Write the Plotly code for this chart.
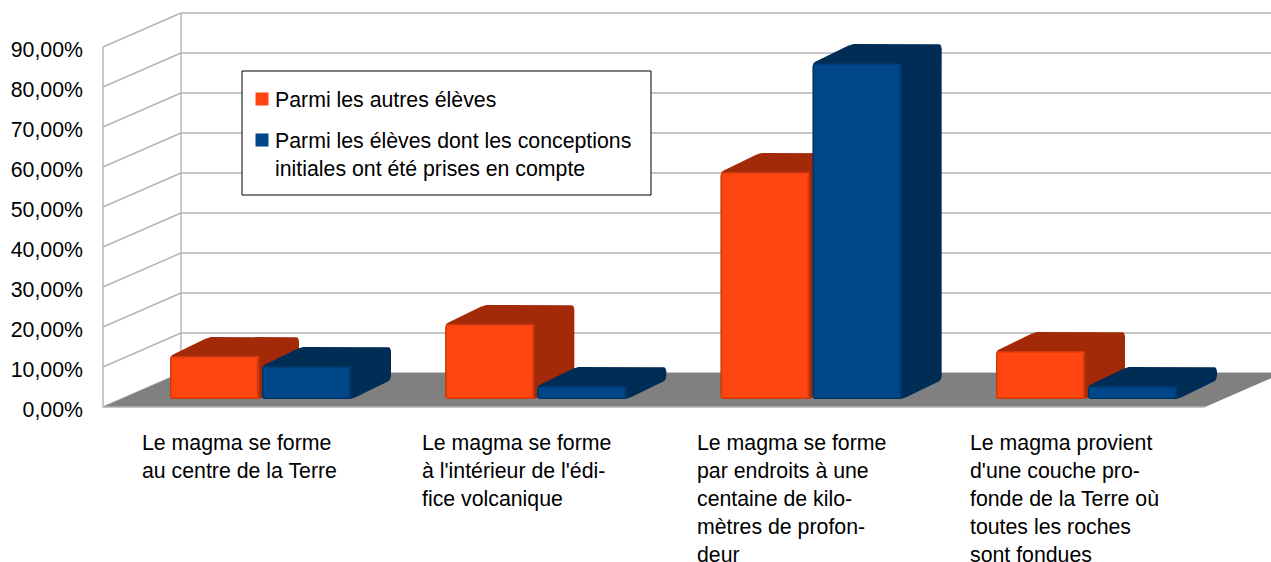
import plotly.graph_objects as go

W, H = 1271, 562

categories = [
    ["Le magma se forme", "au centre de la Terre"],
    ["Le magma se forme", "à l'intérieur de l'édi-", "fice volcanique"],
    ["Le magma se forme", "par endroits à une", "centaine de kilo-", "mètres de profon-", "deur"],
    ["Le magma provient", "d'une couche pro-", "fonde de la Terre où", "toutes les roches", "sont fondues"],
]
series_names = [
    ["Parmi les autres élèves"],
    ["Parmi les élèves dont les conceptions", "initiales ont été prises en compte"],
]
autres = [10.75, 18.75, 56.75, 12.0]
prises = [8.25, 3.25, 84.0, 3.25]
tick_values = [0, 10, 20, 30, 40, 50, 60, 70, 80, 90]
tick_labels = ["0,00%", "10,00%", "20,00%", "30,00%", "40,00%", "50,00%", "60,00%", "70,00%", "80,00%", "90,00%"]

FONT = "Liberation Sans"
FS = 21.3
GRID = "#b3b3b3"
PAL = [
    dict(front="#ff4510", edge="#c4340a", dark="#a32a09"),
    dict(front="#00478a", edge="#00305c", dark="#002d56"),
]

# scale of the oblique projection
PX_X = 275.33      # px per category
PX_Y = 4.0         # px per percent
X0_PX = 261.0      # px position of first category centre
Y0_PX = 407.0      # px position of value 0 on the front edge
xr = [(0 - X0_PX) / PX_X, (W - X0_PX) / PX_X]
yr = [(Y0_PX - H) / PX_Y, Y0_PX / PX_Y]

WALL_DX = 78 / PX_X
WALL_DY = 34 / PX_Y
LEFT = (103 - X0_PX) / PX_X
RIGHT = (1205 - X0_PX) / PX_X
BAR_W = 90 / PX_X
BAR_GAP = 2 / PX_X
BAR_BASE = 8 / PX_Y
BAR_DX = 39 / PX_X
BAR_DY = 19 / PX_Y
FADE = 2.5 / PX_Y
INSET = 1.5 / PX_X


def rounded(points, r=3.0, n=4):
    """Round a polygon's corners; r in px."""
    out = []
    m = len(points)
    for i, (x, y) in enumerate(points):
        px, py = points[i - 1]
        qx, qy = points[(i + 1) % m]
        def toward(ax, ay):
            dxp, dyp = (ax - x) * PX_X, (ay - y) * PX_Y
            d = (dxp ** 2 + dyp ** 2) ** 0.5
            t = min(r / d, 0.5) if d else 0
            return x + (ax - x) * t, y + (ay - y) * t
        a, b = toward(px, py), toward(qx, qy)
        for k in range(n + 1):
            t = k / n
            out.append((
                (1 - t) ** 2 * a[0] + 2 * t * (1 - t) * x + t ** 2 * b[0],
                (1 - t) ** 2 * a[1] + 2 * t * (1 - t) * y + t ** 2 * b[1],
            ))
    out.append(out[0])
    return [p[0] for p in out], [p[1] for p in out]


def poly(points, color, r=3.0, gradient=None):
    xs, ys = rounded(points, r) if r else ([p[0] for p in points] + [points[0][0]], [p[1] for p in points] + [points[0][1]])
    kw = dict(fillcolor=color)
    if gradient:
        kw = dict(fillgradient=gradient)
    return go.Scatter(x=xs, y=ys, mode="lines", fill="toself", line=dict(width=0),
                      hoverinfo="skip", showlegend=False, **kw)


fig = go.Figure()

# walls and gridlines
gx, gy = [], []
for v in tick_values:
    gx += [LEFT, LEFT + WALL_DX, RIGHT + WALL_DX, None]
    gy += [v, v + WALL_DY, v + WALL_DY, None]
for x, off in ((LEFT, 0), (LEFT + WALL_DX, WALL_DY)):
    gx += [x, x, None]
    gy += [off + tick_values[0], off + tick_values[-1], None]
fig.add_trace(go.Scatter(x=gx, y=gy, mode="lines", line=dict(color=GRID, width=1.4),
                         hoverinfo="skip", showlegend=False))

# floor
fig.add_trace(poly([(LEFT, 0), (LEFT + WALL_DX, WALL_DY), (RIGHT + WALL_DX, WALL_DY), (RIGHT, 0)], "#808080", r=0))
fig.add_trace(go.Scatter(x=[LEFT, RIGHT], y=[0, 0], mode="lines", line=dict(color=GRID, width=1.4),
                         hoverinfo="skip", showlegend=False))

# bars, back to front within each group
for i in range(len(categories)):
    for s, vals in enumerate((autres, prises)):
        c = PAL[s]
        x0 = i - BAR_W - BAR_GAP / 2 if s == 0 else i + BAR_GAP / 2
        x1 = x0 + BAR_W
        b = BAR_BASE
        t = BAR_BASE + vals[i]
        fig.add_trace(poly([(x0, t), (x0 + BAR_DX, t + BAR_DY), (x1 + BAR_DX, t + BAR_DY),
                            (x1 + BAR_DX, b + BAR_DY), (x1, b), (x0, b)], c["dark"], r=4))
        grad = dict(type="horizontal", colorscale=[[0, c["edge"]], [0.025, c["front"]], [0.955, c["front"]], [1, c["dark"]]])
        fig.add_trace(poly([(x0, b), (x0, t), (x1, t), (x1, b)], c["front"], gradient=grad))
        # soft top and bottom edges of the front face
        for y_edge, y_in in ((t, t - FADE), (b, b + FADE)):
            lo, hi = min(y_edge, y_in), max(y_edge, y_in)
            scale = dict(type="vertical", start=y_in, stop=y_edge,
                         colorscale=[[0, c["front"]], [1, c["edge"]]])
            fig.add_trace(poly([(x0 + INSET, lo), (x0 + INSET, hi), (x1 - INSET, hi), (x1 - INSET, lo)],
                               c["front"], r=0, gradient=scale))

annotations = []


def label(px, py, text):
    annotations.append(dict(x=px / W, y=1 - py / H, xref="paper", yref="paper", text=text, showarrow=False,
                            xanchor="left", yanchor="middle", align="left", xshift=-2,
                            font=dict(family=FONT, size=FS, color="#000000")))


# category labels
for lines, px in zip(categories, [142, 422, 697, 970]):
    for k, line in enumerate(lines):
        label(px, 443 + 28 * k, line)

# legend
shapes = [dict(type="rect", xref="paper", yref="paper", x0=242 / W, x1=651 / W, y0=1 - 71 / H, y1=1 - 195 / H,
               fillcolor="#ffffff", line=dict(color="#000000", width=1))]
for (y0, y1), c in zip([(92.5, 105.5), (133.5, 146.5)], PAL):
    shapes.append(dict(type="rect", xref="paper", yref="paper", x0=255.5 / W, x1=268.5 / W,
                       y0=1 - y0 / H, y1=1 - y1 / H, fillcolor=c["front"], line=dict(width=0)))
for lines, py in zip(series_names, [100, 141]):
    for k, line in enumerate(lines):
        label(275, py + 28 * k, line)

fig.update_layout(
    width=W, height=H, margin=dict(l=0, r=0, t=0, b=0), paper_bgcolor="#ffffff", plot_bgcolor="#ffffff",
    showlegend=False, shapes=shapes, annotations=annotations,
    xaxis=dict(range=xr, visible=False, domain=[0, 1], fixedrange=True),
    yaxis=dict(range=yr, domain=[0, 1], anchor="free", position=103 / W, side="left",
               tickmode="array", tickvals=tick_values, ticktext=tick_labels,
               showgrid=False, zeroline=False, showline=False, ticks="", ticklabelstandoff=20,
               ticklabelshift=3,
               tickfont=dict(family=FONT, size=FS, color="#000000"), fixedrange=True),
)
fig.write_html("out.html", config=dict(displayModeBar=False),
               post_script="document.body.style.margin='0';document.documentElement.style.overflow='hidden';")
